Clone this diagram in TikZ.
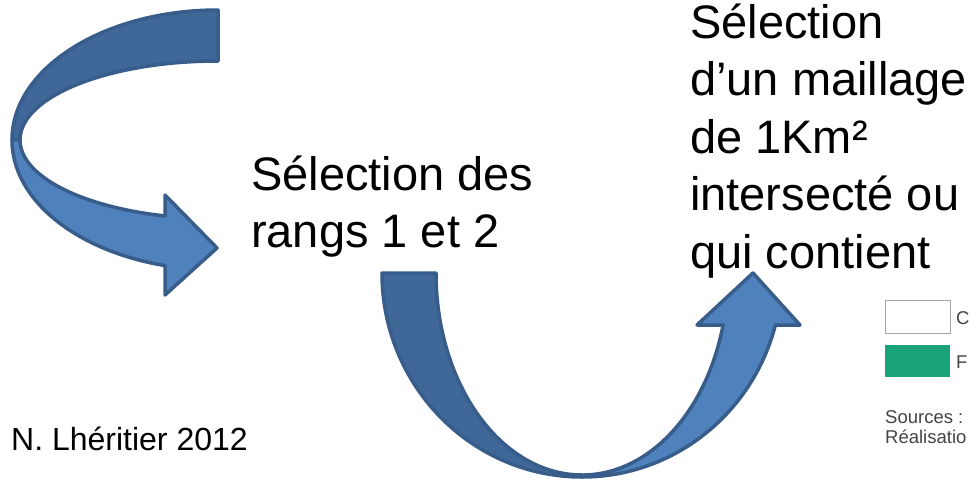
\documentclass[tikz,border=0pt]{standalone}
\usepackage{fontspec}
\setmainfont{Liberation Sans}
\definecolor{arrowdark}{HTML}{3F6797}
\definecolor{arrowlight}{HTML}{4F81BD}
\definecolor{arrowline}{HTML}{385D8A}
\definecolor{legendgreen}{HTML}{1AA37A}
\definecolor{legendgray}{HTML}{444444}
\begin{document}
\begin{tikzpicture}[x=1pt,y=-1pt,
  band/.style={draw=arrowline, line width=3.5pt, line join=round},
  bigtext/.style={anchor=base west, inner sep=0pt, font=\fontsize{47}{57.5}\selectfont, text=black},
  credit/.style={anchor=base west, inner sep=0pt, font=\fontsize{32}{38}\selectfont, text=black},
  legtext/.style={anchor=base west, inner sep=0pt, font=\fontsize{18.5}{20}\selectfont, text=legendgray}]
\useasboundingbox[fill=white] (0,0) rectangle (970,483);

% left curved arrow
\draw[band, fill=arrowdark] (218,10) arc[start angle=-90,end angle=-180,x radius=206,y radius=130]
  -- (20,140) arc[start angle=180,end angle=270,x radius=198,y radius=79] -- cycle;
\draw[band, fill=arrowlight] (12,140) arc[start angle=180,end angle=104.9,x radius=206,y radius=130]
  -- (165,295) -- (217,248) -- (165,195) -- (165,216)
  arc[start angle=105.53,end angle=180,x radius=198,y radius=79] -- cycle;

% bottom U arrow
\draw[band, fill=arrowdark] (382,273) arc[start angle=180,end angle=90,x radius=200,y radius=204]
  -- (582,475) arc[start angle=90,end angle=180,x radius=146,y radius=202] -- cycle;
\draw[band, fill=arrowlight] (582,477) arc[start angle=90,end angle=14.77,x radius=200,y radius=204]
  -- (800,325) -- (753,273) -- (697,325) -- (723.1,325)
  arc[start angle=14.91,end angle=90,x radius=146,y radius=202] -- cycle;

% texts
\node[bigtext] (l1) at (251,190) {Sélection des};
\node[bigtext] (l2) at (251,247.5) {rangs 1 et 2};

\node[bigtext] (r1) at (690,38) {Sélection};
\node[bigtext] (r2) at (690,95.5) {d’un maillage};
\node[bigtext] (r3) at (690,153) {de 1Km²};
\node[bigtext] (r4) at (690,210.5) {intersecté ou};
\node[bigtext] (r5) at (690,268) {qui contient};

\node[credit] (cr) at (11,450) {N. Lhéritier 2012};

% legend fragment
\node[draw=gray!70, line width=0.8pt, fill=white, minimum width=65pt, minimum height=33pt, inner sep=0pt] (lg1) at (917.5,316.5) {};
\node[fill=legendgreen, minimum width=65pt, minimum height=32pt, inner sep=0pt] (lg2) at (917.5,361) {};
\node[legtext] (lc) at (956,324) {C};
\node[legtext] (lf) at (956,368) {F};
\node[legtext] (ls) at (885,423) {Sources :};
\node[legtext] (lr) at (885,443) {Réalisatio};
\end{tikzpicture}
\end{document}
